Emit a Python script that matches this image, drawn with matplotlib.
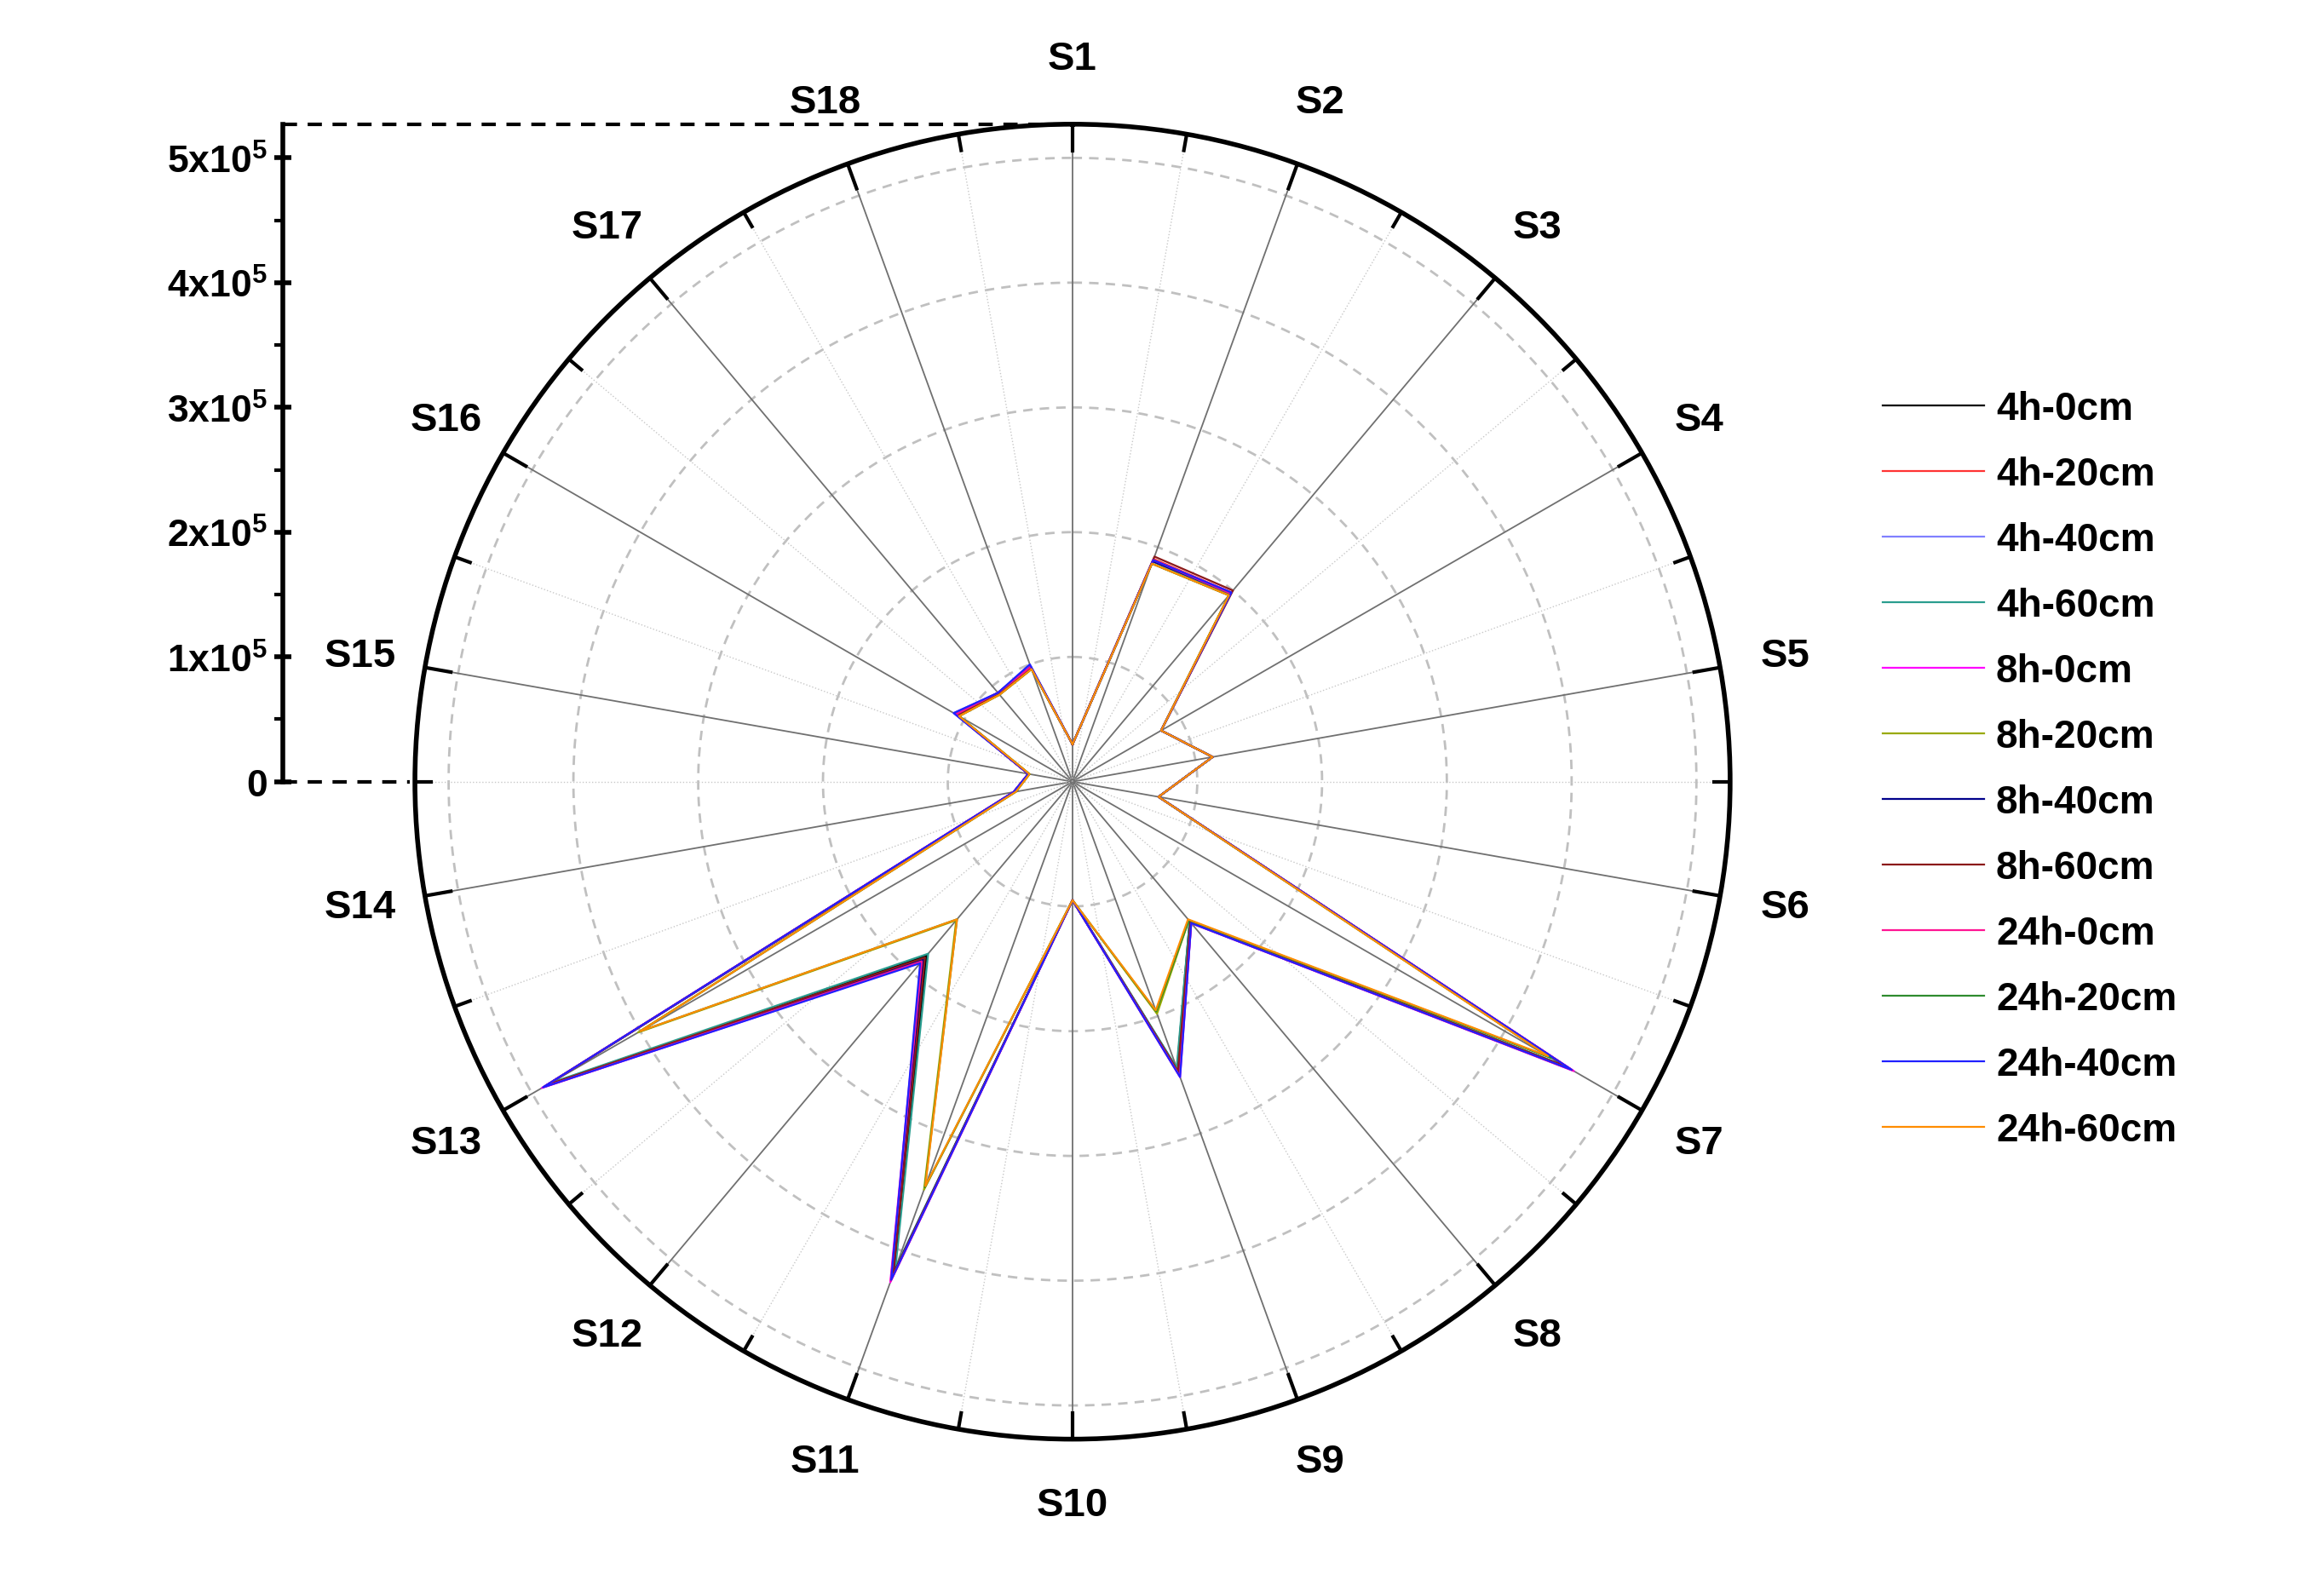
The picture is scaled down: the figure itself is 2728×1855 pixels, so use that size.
import numpy as np
import matplotlib
matplotlib.use("Agg")
import matplotlib.pyplot as plt
from matplotlib.lines import Line2D

plt.rcParams['font.family'] = ['Liberation Sans', 'DejaVu Sans']
plt.rcParams['mathtext.fontset'] = 'custom'
plt.rcParams['mathtext.bf'] = 'Liberation Sans:bold'
plt.rcParams['mathtext.rm'] = 'Liberation Sans'

categories = [f"S{i}" for i in range(1, 19)]
series_names = ["4h-0cm", "4h-20cm", "4h-40cm", "4h-60cm", "8h-0cm", "8h-20cm",
                "8h-40cm", "8h-60cm", "24h-0cm", "24h-20cm", "24h-40cm", "24h-60cm"]
colors = ["#000000", "#ff3333", "#8080ff", "#2a9d8f", "#ff00ff", "#99aa00",
          "#00008b", "#8b1a1a", "#ff1493", "#2e8b2e", "#2020ff", "#ff8c00"]

# values in units of 1e5
v_4h_0  = [0.30, 1.88, 1.97, 0.82, 1.14, 0.70, 4.58, 1.46, 2.45, 0.95, 4.18, 1.82, 4.85, 0.47, 0.36, 1.06, 0.92, 0.97]
v_4h_20 = [0.30, 1.90, 1.98, 0.82, 1.14, 0.70, 4.60, 1.47, 2.48, 0.95, 4.22, 1.85, 4.88, 0.48, 0.36, 1.07, 0.93, 0.98]
v_4h_40 = [0.30, 1.89, 1.97, 0.82, 1.14, 0.70, 4.62, 1.48, 2.50, 0.95, 4.25, 1.88, 4.90, 0.48, 0.36, 1.10, 0.93, 1.00]
v_4h_60 = [0.30, 1.88, 1.96, 0.82, 1.14, 0.70, 4.55, 1.46, 2.44, 0.95, 4.15, 1.80, 4.83, 0.47, 0.36, 1.06, 0.92, 0.97]
v_8h_0  = [0.30, 1.89, 1.98, 0.82, 1.14, 0.70, 4.64, 1.48, 2.52, 0.95, 4.27, 1.89, 4.91, 0.48, 0.36, 1.08, 0.93, 0.98]
v_8h_20 = [0.30, 1.86, 1.95, 0.82, 1.14, 0.70, 4.42, 1.45, 1.98, 0.95, 3.48, 1.45, 4.02, 0.46, 0.35, 1.05, 0.91, 0.96]
v_8h_40 = [0.30, 1.88, 1.97, 0.82, 1.14, 0.70, 4.60, 1.47, 2.50, 0.95, 4.20, 1.86, 4.89, 0.48, 0.36, 1.08, 0.93, 0.98]
v_8h_60 = [0.30, 1.92, 2.00, 0.82, 1.14, 0.70, 4.57, 1.47, 2.47, 0.95, 4.20, 1.84, 4.86, 0.47, 0.36, 1.06, 0.92, 0.97]
v_24h_0 = [0.30, 1.89, 1.97, 0.82, 1.14, 0.70, 4.63, 1.48, 2.51, 0.95, 4.26, 1.88, 4.90, 0.48, 0.36, 1.08, 0.93, 0.98]
v_24h_20= [0.30, 1.86, 1.95, 0.82, 1.14, 0.70, 4.43, 1.45, 1.96, 0.95, 3.46, 1.44, 4.00, 0.46, 0.35, 1.05, 0.91, 0.96]
v_24h_40= [0.30, 1.89, 1.98, 0.82, 1.14, 0.70, 4.62, 1.48, 2.52, 0.95, 4.25, 1.90, 4.90, 0.48, 0.36, 1.10, 0.93, 1.00]
v_24h_60= [0.30, 1.86, 1.95, 0.82, 1.14, 0.70, 4.40, 1.44, 1.95, 0.95, 3.45, 1.44, 4.00, 0.46, 0.35, 1.05, 0.91, 0.96]
all_vals = [v_4h_0, v_4h_20, v_4h_40, v_4h_60, v_8h_0, v_8h_20,
            v_8h_40, v_8h_60, v_24h_0, v_24h_20, v_24h_40, v_24h_60]
y_ticks = [0, 1, 2, 3, 4, 5]
RMAX = 5.27

fig = plt.figure(figsize=(27.28, 18.56), dpi=100)
cx, cy = 0.4615, 0.505
rw, rh = 0.2853, 0.4159
ax = fig.add_axes([cx - rw, cy - rh, 2 * rw, 2 * rh], projection="polar")
ax.set_theta_zero_location("N")
ax.set_theta_direction(-1)
ax.set_ylim(0, RMAX)
ax.grid(False)
ax.set_xticks([])
ax.set_yticks([])
ax.spines["polar"].set_linewidth(4)

n = len(categories)
theta = np.arange(n) * 2 * np.pi / n
tt = np.linspace(0, 2 * np.pi, 400)
for r in [1, 2, 3, 4, 5]:
    ax.plot(tt, np.full_like(tt, r), ls=(0, (4, 3)), color="#c0c0c0", lw=2, zorder=1)
for t in theta:
    ax.plot([t, t], [0, RMAX], color="#707070", lw=1.3, zorder=1)
    ax.plot([t + np.pi / n] * 2, [0, RMAX], color="#c8c8c8", lw=1, ls=":", zorder=1)
for k in range(2 * n):
    t = k * np.pi / n
    ax.plot([t, t], [RMAX * (0.96 if k % 2 == 0 else 0.975), RMAX], color="black", lw=3, zorder=3)
for t, lab in zip(theta, categories):
    ax.text(t, RMAX * 1.1, lab, ha="center", va="center", fontsize=34, fontweight="bold")

for vals, c, name in zip(all_vals, colors, series_names):
    vv = list(vals) + [vals[0]]
    tv = list(theta) + [theta[0]]
    ax.plot(tv, vv, color=c, lw=1.6, label=name, zorder=4)

# left scale axis
sax = fig.add_axes([0.1218, cy, 0.0001, rh])
sax.set_ylim(0, RMAX)
sax.set_xticks([])
for s in ["top", "right", "bottom"]:
    sax.spines[s].set_visible(False)
sax.spines["left"].set_linewidth(4)
sax.set_yticks(y_ticks)
sax.set_yticklabels([r"$\mathbf{0}$"] + [rf"$\mathbf{{{v}x10^{{5}}}}$" for v in y_ticks[1:]],
                    fontsize=32)
sax.tick_params(axis="y", width=4, length=14, direction="inout", pad=6)
sax.set_yticks(np.arange(0.5, 5, 1), minor=True)
sax.tick_params(axis="y", which="minor", width=3, length=7, direction="out")

fig.add_artist(Line2D([0.1218, cx], [cy + rh, cy + rh], ls=(0, (4, 3)), color="black", lw=3))
fig.add_artist(Line2D([0.1218, cx - rw], [cy, cy], ls=(0, (4, 3)), color="black", lw=3))

fig.legend(loc="upper left", bbox_to_anchor=(0.795, 0.775), frameon=False,
           prop={"size": 33, "weight": "bold"}, handlelength=2.6,
           labelspacing=0.72, handletextpad=0.3)
fig.savefig("out.png", dpi=100)
